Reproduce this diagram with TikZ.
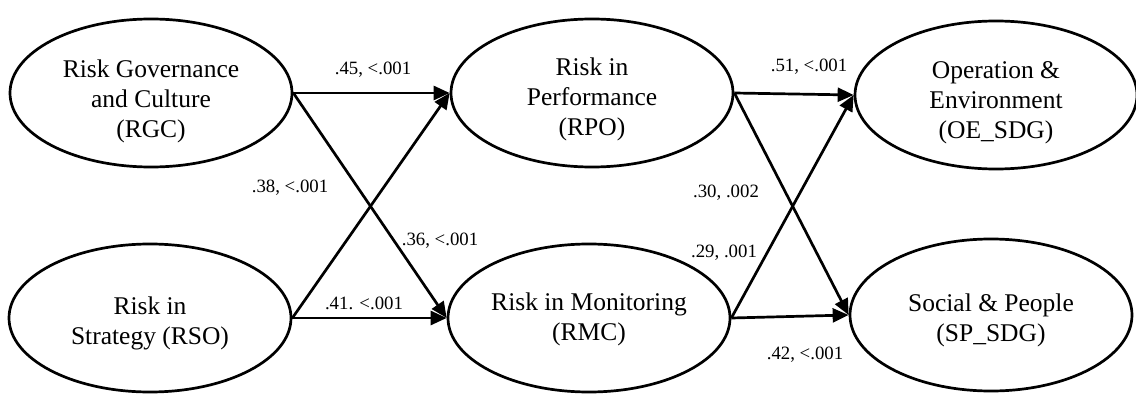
\documentclass[tikz,border=0pt]{standalone}
\usepackage{fontspec}
\setmainfont{Liberation Serif}
\usetikzlibrary{shapes.geometric,arrows.meta}
\begin{document}
\begin{tikzpicture}[x=1pt,y=-1pt,
  lat/.style={ellipse,draw,line width=2.7pt,minimum width=282pt,minimum height=148pt,inner sep=0pt},
  txt/.style={align=center,font=\fontsize{25.5}{30}\selectfont,inner sep=0pt},
  path/.style={line width=2.7pt,-{Triangle[length=16pt,width=14pt]}},
  coef/.style={font=\fontsize{18.8}{21}\selectfont,inner sep=0pt}]
\useasboundingbox (0,0) rectangle (1136,396);
\node[lat,label={[txt,yshift=-8pt]center:{Risk Governance\\and Culture\\(RGC)}}] (RGC) at (151,93) {};
\node[lat,label={[txt,yshift=-5pt]center:{Risk in\\Strategy (RSO)}}] (RSO) at (150,318) {};
\node[lat,label={[txt,yshift=-6pt]center:{Risk in\\Performance\\(RPO)}}] (RPO) at (592,93) {};
\node[lat,label={[txt,yshift=-1pt]center:{Risk in Monitoring\\(RMC)}}] (RMC) at (589,318) {};
\node[lat,label={[txt,yshift=-8pt]center:{Operation \&\\Environment\\(OE\_SDG)}}] (OE) at (996,95) {};
\node[lat,minimum height=152pt,label={[txt,yshift=-5pt]center:{Social \& People\\(SP\_SDG)}}] (SP) at (991,315) {};
\draw[path] (RGC.east) -- (RPO.west);
\draw[path] (RGC.east) -- (RMC.west);
\draw[path] (RSO.east) -- (RPO.west);
\draw[path] (RSO.east) -- (RMC.west);
\draw[path] (RPO.east) -- (OE.west);
\draw[path] (RPO.east) -- (SP.west);
\draw[path] (RMC.east) -- (OE.west);
\draw[path] (RMC.east) -- (SP.west);
\node[coef] (l1) at (373,70) {.45, <.001};
\node[coef] (l2) at (290,188) {.38, <.001};
\node[coef] (l3) at (440,241) {.36, <.001};
\node[coef] (l4) at (364,303) {.41. <.001};
\node[coef] (l5) at (809,67) {.51, <.001};
\node[coef] (l6) at (726,193) {.30, .002};
\node[coef] (l7) at (724,253) {.29, .001};
\node[coef] (l8) at (805,355) {.42, <.001};
\end{tikzpicture}
\end{document}
